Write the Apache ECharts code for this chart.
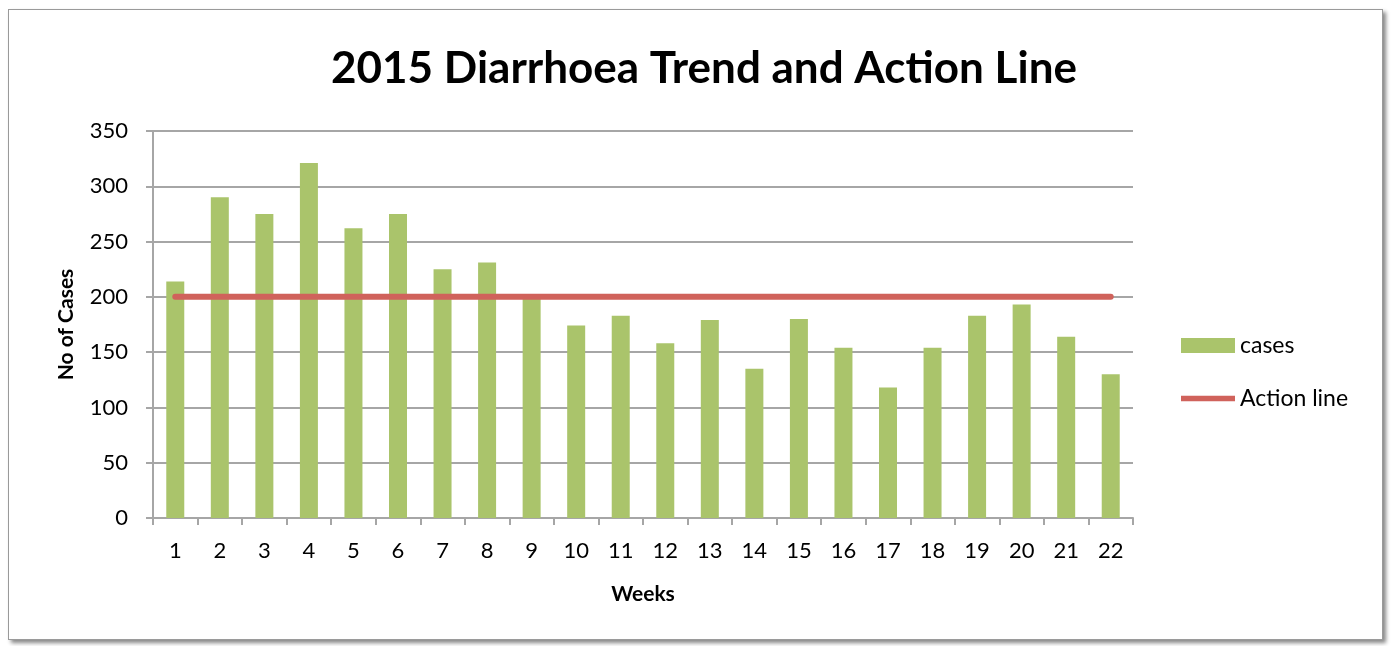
<!DOCTYPE html>
<html><head><meta charset="utf-8">
<script src="https://cdn.jsdelivr.net/npm/echarts@6/dist/echarts.min.js"></script>
<style>html,body{margin:0;padding:0;background:#fff;}#c{width:1391px;height:646px;}
#frame{position:absolute;left:8px;top:9px;width:1373px;height:629px;border:1px solid #9a9a9a;box-shadow:3px 3px 4px #888;pointer-events:none;}</style>
</head><body><div id="c"></div><div id="frame"></div>
<script>
const weeks = ['1','2','3','4','5','6','7','8','9','10','11','12','13','14','15','16','17','18','19','20','21','22'];
const cases = [214,290,275,321,262,275,225,231,199,174,183,158,179,135,180,154,118,154,183,193,164,130];
const actionLine = [200,200,200,200,200,200,200,200,200,200,200,200,200,200,200,200,200,200,200,200,200,200];
const F = 'Lato, "Open Sans", sans-serif';
const chart = echarts.init(document.getElementById('c'));
chart.setOption({
  animation:false,
  title:{text:'2015 Diarrhoea Trend and Action Line',left:699,textAlign:'center',top:42,
    textStyle:{fontFamily:F,fontSize:44,fontWeight:'bold',color:'#000'}},
  grid:{left:153,top:131,width:980,height:387},
  legend:{orient:'vertical',left:1181,top:334,padding:0,itemGap:30,itemWidth:54,itemHeight:15,
    textStyle:{fontFamily:F,fontSize:23,color:'#000',padding:[0,0,0,0]},
    data:[{name:'cases',icon:'rect'},{name:'Action line',icon:'path://M0,0 L100,0 L100,10 L0,10 Z'}]},
  xAxis:{type:'category',data:weeks,
    name:'Weeks',nameLocation:'middle',nameGap:66,
    nameTextStyle:{fontFamily:F,fontSize:21,fontWeight:'bold',color:'#000'},
    axisLine:{lineStyle:{color:'#a6a6a6',width:2}},
    axisTick:{show:true,length:7,lineStyle:{color:'#a6a6a6',width:2}},
    axisLabel:{fontFamily:F,fontSize:22,color:'#000',margin:22}},
  yAxis:{type:'value',min:0,max:350,interval:50,
    name:'No of Cases',nameLocation:'middle',nameGap:76,
    nameTextStyle:{fontFamily:F,fontSize:21,fontWeight:'bold',color:'#000'},
    axisLine:{show:true,lineStyle:{color:'#a6a6a6',width:2}},
    axisTick:{show:true,length:7,lineStyle:{color:'#a6a6a6',width:2}},
    splitLine:{lineStyle:{color:'#a6a6a6',width:2}},
    axisLabel:{fontFamily:F,fontSize:22,color:'#000',margin:25}},
  series:[
    {name:'cases',type:'bar',data:cases,barWidth:18,itemStyle:{color:'#aac46b'}},
    {name:'Action line',type:'line',data:actionLine,symbol:'none',
      lineStyle:{color:'#d0625b',width:6,cap:'round'},itemStyle:{color:'#d0625b'}}
  ]
});
</script></body></html>
